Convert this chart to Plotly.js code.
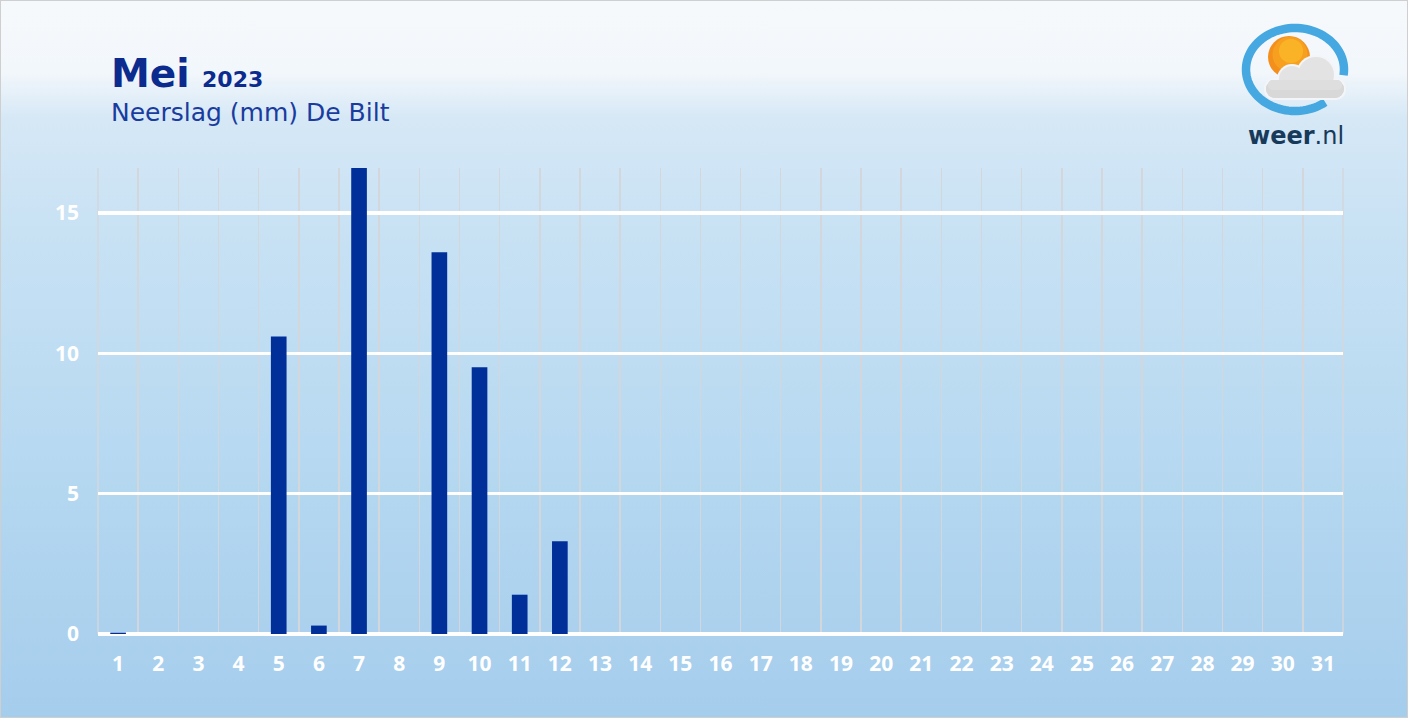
<!DOCTYPE html>
<html>
<head>
<meta charset="utf-8">
<script src="https://cdn.plot.ly/plotly-3.0.1.min.js"></script>
<style>
  html, body { margin: 0; padding: 0; }
  body { width: 1408px; height: 718px; overflow: hidden;
    background: linear-gradient(to bottom, #f6f9fc 0px, #f2f7fb 72px, #d6e8f6 118px, #c9e2f4 220px, #b7d9f1 450px, #a5cdec 718px); }
  #chart { position: absolute; left: 0; top: 0; width: 1408px; height: 718px; }
  #frame { position: absolute; left: 0; top: 0; width: 1408px; height: 718px; box-sizing: border-box;
    border: 1.5px solid #cfcfcf; pointer-events: none; }
</style>
</head>
<body>
<div id="chart"></div>
<div id="frame"></div>
<script>
// ---- data ----
const days = ['1','2','3','4','5','6','7','8','9','10','11','12','13','14','15','16','17','18','19','20','21','22','23','24','25','26','27','28','29','30','31'];
const rain = [0.05,0,0,0,10.6,0.3,16.6,0,13.6,9.5,1.4,3.3,0,0,0,0,0,0,0,0,0,0,0,0,0,0,0,0,0,0,0];
const yTicks = [0,5,10,15];
const titleMonth = 'Mei';
const titleYear = '2023';
const subtitle = 'Neerslag (mm) De Bilt';

// ---- layout geometry ----
const W = 1408, H = 718;
const M = {l: 98, r: 65, t: 168, b: 84};
const PW = W - M.l - M.r, PH = H - M.t - M.b;
const px = X => (X - M.l) / PW;
const py = Y => (H - M.b - Y) / PH;

const tickFont = "'Open Sans', 'Noto Sans', sans-serif";
const titleFont = "'DejaVu Sans', 'Open Sans', sans-serif";
const navy = '#0b2b8e';

// logo helpers (decoration)
function circle(cx, cy, r, color) {
  return {type: 'circle', xref: 'paper', yref: 'paper', layer: 'above',
    x0: px(cx - r), x1: px(cx + r), y0: py(cy + r), y1: py(cy - r),
    fillcolor: color, line: {width: 0}};
}
function arcPath(cx, cy, rx, ry, a0, a1, n) {
  let d = '';
  for (let i = 0; i <= n; i++) {
    const a = (a0 + (a1 - a0) * i / n) * Math.PI / 180;
    const X = cx + rx * Math.cos(a), Y = cy - ry * Math.sin(a);
    d += (i === 0 ? 'M' : 'L') + px(X).toFixed(5) + ',' + py(Y).toFixed(5);
  }
  return d;
}
function rrect(x0, y0, x1, y1, r, color) {
  const shapes = [];
  shapes.push({type: 'rect', xref: 'paper', yref: 'paper', layer: 'above',
    x0: px(x0 + r), x1: px(x1 - r), y0: py(y1), y1: py(y0), fillcolor: color, line: {width: 0}});
  shapes.push({type: 'rect', xref: 'paper', yref: 'paper', layer: 'above',
    x0: px(x0), x1: px(x1), y0: py(y1 - r), y1: py(y0 + r), fillcolor: color, line: {width: 0}});
  [[x0 + r, y0 + r], [x1 - r, y0 + r], [x0 + r, y1 - r], [x1 - r, y1 - r]].forEach(c => shapes.push(circle(c[0], c[1], r, color)));
  return shapes;
}

const shapes = [];
// plot-area edge grid lines (left / right boundaries)
[0, 1].forEach(xp => shapes.push({type: 'line', xref: 'paper', yref: 'paper', layer: 'below',
  x0: xp, x1: xp, y0: 0, y1: 1, line: {color: '#d3d7dc', width: 1.5}}));
shapes.push({type: 'path', xref: 'paper', yref: 'paper', layer: 'above',
  path: arcPath(1295, 69.5, 49, 41.5, -8, 308, 90), line: {color: '#45a8e1', width: 8.5}});
// sun
shapes.push(circle(1289, 57, 21, '#f48f1c'));
shapes.push(circle(1290, 54.5, 17.5, '#f7a020'));
shapes.push(circle(1291, 51, 12, '#fab326'));
// cloud (light outline, then body, then lighter top)
const cloudEdge = '#f3f5f8';
shapes.push(circle(1316, 75, 20, cloudEdge));
shapes.push(circle(1292, 79, 15, cloudEdge));
rrect(1264, 78, 1346, 100, 10, cloudEdge).forEach(s => shapes.push(s));
shapes.push(circle(1316, 75, 18, '#e3e3e3'));
shapes.push(circle(1292, 79, 13, '#e3e3e3'));
rrect(1266, 80, 1344, 98, 9, '#d8d8d8').forEach(s => shapes.push(s));
rrect(1268, 80, 1342, 90, 5, '#dedede').forEach(s => shapes.push(s));

const trace = {
  type: 'bar', x: days, y: rain,
  marker: {color: '#002f99', line: {width: 0}},
  width: 0.39, hoverinfo: 'skip'
};

const layout = {
  width: W, height: H,
  margin: M,
  paper_bgcolor: 'rgba(0,0,0,0)', plot_bgcolor: 'rgba(0,0,0,0)',
  showlegend: false,
  font: {family: tickFont},
  xaxis: {
    type: 'category', categoryorder: 'array', categoryarray: days,
    range: [-0.5, days.length - 0.5],
    tickson: 'boundaries', showgrid: true, gridcolor: '#d3d7dc', gridwidth: 1.5,
    ticks: '', ticklabelstandoff: 15,
    tickfont: {family: tickFont, size: 21, color: '#ffffff', weight: 700},
    showline: false, zeroline: false, fixedrange: true
  },
  yaxis: {
    range: [0, 16.6], tickvals: yTicks, ticktext: yTicks.map(String),
    showgrid: true, gridcolor: '#ffffff', gridwidth: 3.5,
    zeroline: true, zerolinecolor: '#ffffff', zerolinewidth: 3.5,
    ticks: '', ticklabelstandoff: 18,
    tickfont: {family: tickFont, size: 21, color: '#ffffff', weight: 700},
    showline: false, fixedrange: true
  },
  shapes: shapes,
  annotations: [
    {xref: 'paper', yref: 'paper', x: px(109), y: py(73), xanchor: 'left', yanchor: 'middle', showarrow: false,
     text: '<b>' + titleMonth + '</b> <b><span style="font-size:22px">' + titleYear + '</span></b>',
     font: {family: titleFont, size: 39, color: navy}},
    {xref: 'paper', yref: 'paper', x: px(109), y: py(113), xanchor: 'left', yanchor: 'middle', showarrow: false,
     text: subtitle, font: {family: titleFont, size: 25, color: '#1a3c9f'}},
    {xref: 'paper', yref: 'paper', x: px(1296), y: py(136), xanchor: 'center', yanchor: 'middle', showarrow: false,
     text: '<b>weer</b>.nl', font: {family: titleFont, size: 24, color: '#183a5a'}}
  ]
};

Plotly.newPlot('chart', [trace], layout, {staticPlot: true, displayModeBar: false});
</script>
</body>
</html>
